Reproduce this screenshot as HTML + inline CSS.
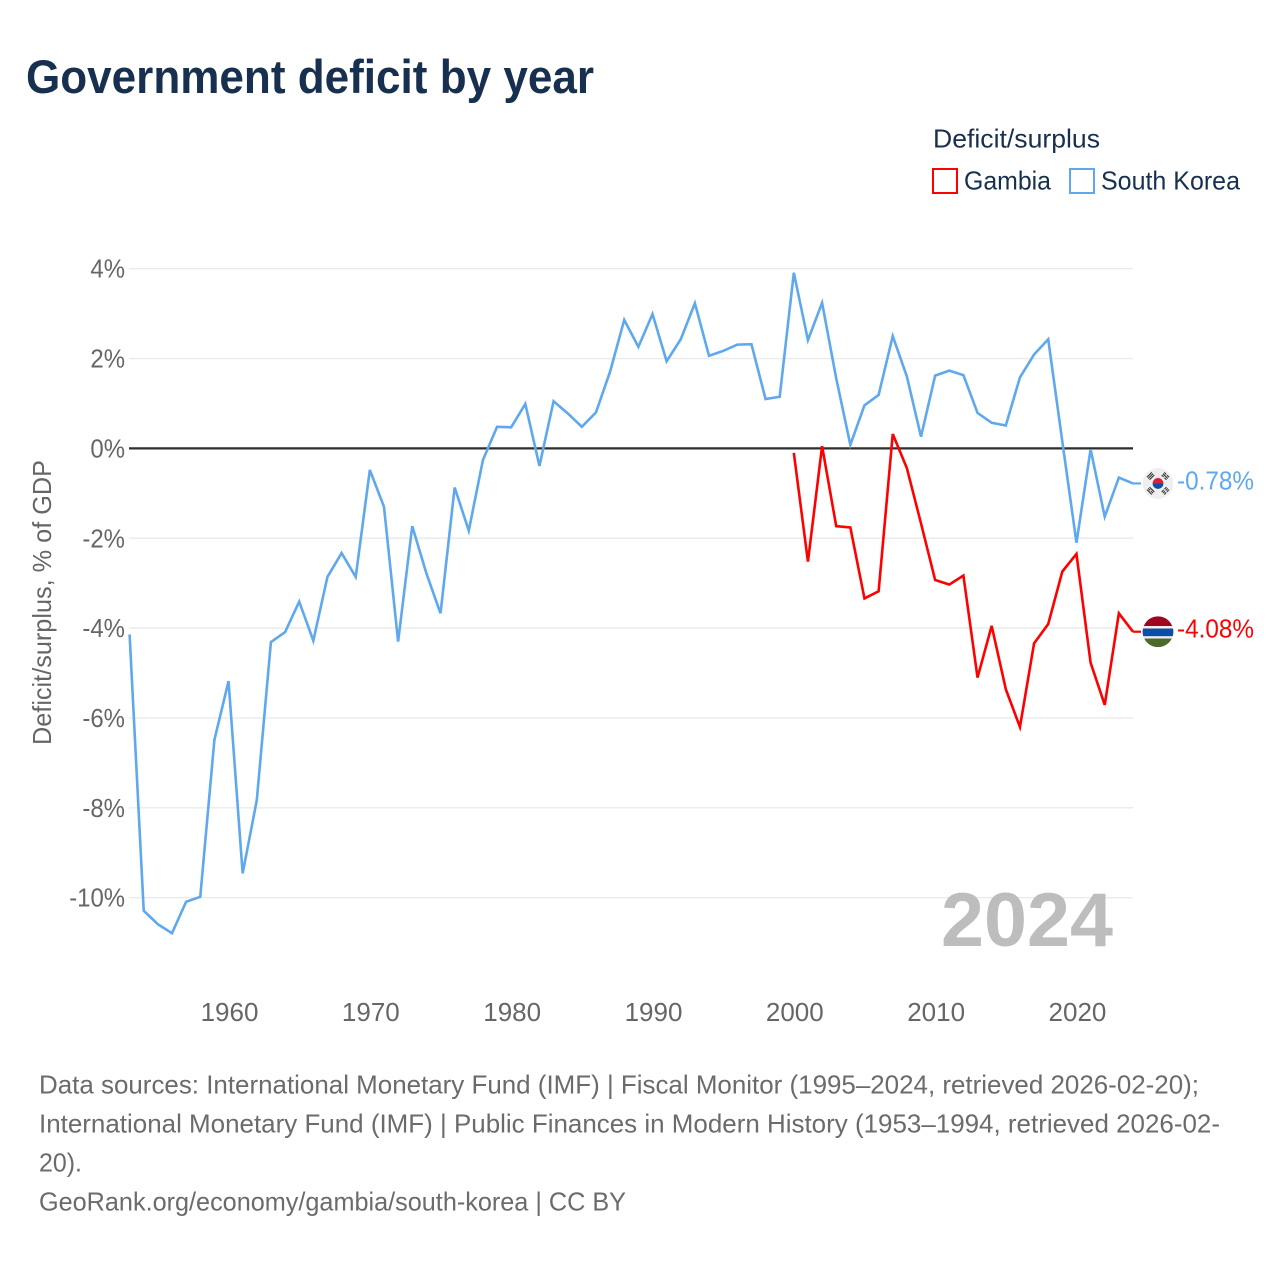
<!DOCTYPE html>
<html lang="en">
<head>
<meta charset="utf-8">
<title>Government deficit by year</title>
<style>
  html, body { margin: 0; padding: 0; background: #fff; }
  svg { display: block; font-family: "Liberation Sans", sans-serif; }
</style>
</head>
<body>
<svg id="chart" xmlns="http://www.w3.org/2000/svg" width="1280" height="1280" viewBox="0 0 1280 1280">
  <defs>
    <clipPath id="flag-clip"><circle cx="0" cy="0" r="15.4"></circle></clipPath>
  </defs>
  <rect x="0" y="0" width="1280" height="1280" fill="#ffffff"></rect>

  <text x="26" y="93" font-size="47" font-weight="700" fill="#18304f" textLength="568" lengthAdjust="spacingAndGlyphs">Government deficit by year</text>

  <text x="933" y="147.5" font-size="26" fill="#18304f" textLength="167" lengthAdjust="spacingAndGlyphs">Deficit/surplus</text>
  <rect x="933" y="169" width="24" height="24" fill="#ffffff" stroke="#ff0000" stroke-width="2"></rect>
  <text x="964" y="189.5" font-size="26" fill="#18304f" textLength="87" lengthAdjust="spacingAndGlyphs">Gambia</text>
  <rect x="1070" y="169" width="24" height="24" fill="#ffffff" stroke="#5ea8ee" stroke-width="2"></rect>
  <text x="1101" y="189.5" font-size="26" fill="#18304f" textLength="139" lengthAdjust="spacingAndGlyphs">South Korea</text>

  <g id="grid"></g>
  <g id="y-ticks"></g>
  <g id="x-ticks"></g>

  <text transform="translate(51 745) rotate(-90)" x="0" y="0" font-size="26" fill="#666666" textLength="285" lengthAdjust="spacingAndGlyphs">Deficit/surplus, % of GDP</text>

  <text x="941" y="946" font-size="76" font-weight="700" fill="#bdbdbd" textLength="172" lengthAdjust="spacingAndGlyphs">2024</text>

  <g id="series"></g>

  <g id="flag-south-korea">
    <g clip-path="url(#flag-clip)">
      <rect x="-16" y="-16" width="32" height="32" fill="#efefef"></rect>
      <path d="M-5.4 0A5.4 5.4 0 0 1 5.4 0Z" fill="#d8203a"></path>
      <path d="M-5.4 0A5.4 5.4 0 0 0 5.4 0Z" fill="#0a4ea8"></path>
      <g fill="none" stroke="#333333" stroke-width="1.1">
        <g transform="rotate(-45)"><path d="M-3.4 -12.2H3.4M-3.4 -10.4H3.4M-3.4 -8.6H3.4"></path></g>
        <g transform="rotate(45)"><path d="M-3.4 -12.2H-0.5M0.5 -12.2H3.4M-3.4 -10.4H3.4M-3.4 -8.6H-0.5M0.5 -8.6H3.4"></path></g>
        <g transform="rotate(-135)"><path d="M-3.4 -12.2H3.4M-3.4 -10.4H-0.5M0.5 -10.4H3.4M-3.4 -8.6H3.4"></path></g>
        <g transform="rotate(135)"><path d="M-3.4 -12.2H-0.5M0.5 -12.2H3.4M-3.4 -10.4H-0.5M0.5 -10.4H3.4M-3.4 -8.6H-0.5M0.5 -8.6H3.4"></path></g>
      </g>
    </g>
  </g>
  <g id="flag-gambia">
    <g clip-path="url(#flag-clip)">
      <rect x="-16" y="-16" width="32" height="10.4" fill="#a0051f"></rect>
      <rect x="-16" y="-5.6" width="32" height="2.4" fill="#efefef"></rect>
      <rect x="-16" y="-3.2" width="32" height="7.8" fill="#0c4ea6"></rect>
      <rect x="-16" y="4.6" width="32" height="2.2" fill="#efefef"></rect>
      <rect x="-16" y="6.8" width="32" height="10" fill="#4c6a2a"></rect>
    </g>
  </g>

  <g font-size="26" fill="#6b6b6b">
    <text x="39" y="1093.5" textLength="1160" lengthAdjust="spacingAndGlyphs">Data sources: International Monetary Fund (IMF) | Fiscal Monitor (1995–2024, retrieved 2026-02-20);</text>
    <text x="39" y="1132.5" textLength="1181" lengthAdjust="spacingAndGlyphs">International Monetary Fund (IMF) | Public Finances in Modern History (1953–1994, retrieved 2026-02-</text>
    <text x="39" y="1171.5" textLength="43" lengthAdjust="spacingAndGlyphs">20).</text>
    <text x="39" y="1210.5" textLength="587" lengthAdjust="spacingAndGlyphs">GeoRank.org/economy/gambia/south-korea | CC BY</text>
  </g>
</svg>

<script>
const koreaYears = [1953,1954,1955,1956,1957,1958,1959,1960,1961,1962,1963,1964,1965,1966,1967,1968,1969,1970,1971,1972,1973,1974,1975,1976,1977,1978,1979,1980,1981,1982,1983,1984,1985,1986,1987,1988,1989,1990,1991,1992,1993,1994,1995,1996,1997,1998,1999,2000,2001,2002,2003,2004,2005,2006,2007,2008,2009,2010,2011,2012,2013,2014,2015,2016,2017,2018,2019,2020,2021,2022,2023,2024];
const koreaValues = [-4.14,-10.29,-10.59,-10.79,-10.09,-9.98,-6.49,-5.18,-9.46,-7.83,-4.31,-4.09,-3.41,-4.28,-2.86,-2.33,-2.86,-0.48,-1.30,-4.30,-1.73,-2.78,-3.67,-0.87,-1.83,-0.26,0.48,0.47,0.99,-0.39,1.05,0.78,0.48,0.80,1.71,2.86,2.26,2.99,1.94,2.43,3.23,2.06,2.17,2.31,2.32,1.10,1.15,3.91,2.41,3.24,1.56,0.08,0.96,1.19,2.50,1.60,0.26,1.62,1.73,1.63,0.79,0.57,0.51,1.58,2.09,2.43,0.15,-2.10,-0.02,-1.52,-0.65,-0.78];
const gambiaYears = [2000,2001,2002,2003,2004,2005,2006,2007,2008,2009,2010,2011,2012,2013,2014,2015,2016,2017,2018,2019,2020,2021,2022,2023,2024];
const gambiaValues = [-0.10,-2.52,0.05,-1.73,-1.76,-3.34,-3.18,0.32,-0.44,-1.67,-2.93,-3.03,-2.83,-5.10,-3.95,-5.36,-6.20,-4.34,-3.91,-2.74,-2.35,-4.77,-5.71,-3.67,-4.08];
const yTickValues = [4,2,0,-2,-4,-6,-8,-10];
const xTickValues = [1960,1970,1980,1990,2000,2010,2020];

const SVG_NS = 'http://www.w3.org/2000/svg';
function xScale(year) { return 129.6 + (year - 1953) * (1133 - 129.6) / 71; }
function yScale(value) { return 448.4 - value * 44.93; }
function make(tag, attrs, parent, text) {
  const el = document.createElementNS(SVG_NS, tag);
  for (const key in attrs) el.setAttribute(key, attrs[key]);
  if (text !== undefined) el.textContent = text;
  parent.appendChild(el);
  return el;
}
function linePath(years, values) {
  return years.map(function (yr, i) {
    return (i ? 'L' : 'M') + xScale(yr).toFixed(2) + ' ' + yScale(values[i]).toFixed(2);
  }).join('');
}

const gridGroup = document.getElementById('grid');
const yTickGroup = document.getElementById('y-ticks');
const xTickGroup = document.getElementById('x-ticks');
const seriesGroup = document.getElementById('series');
const root = document.getElementById('chart');

yTickValues.forEach(function (v) {
  if (v !== 0) {
    const line = make('line', { x1: 129, x2: 1133, y1: yScale(v), y2: yScale(v), stroke: '#ebebeb', 'stroke-width': 1.4 }, gridGroup);
    
    
  }
  const label = make('text', { x: 125, y: yScale(v) + 9, 'text-anchor': 'end', 'font-size': 26, fill: '#666666' }, yTickGroup, v + '%');
  label.setAttribute('textLength', (label.getComputedTextLength() * 0.92).toFixed(1));
  label.setAttribute('lengthAdjust', 'spacingAndGlyphs');
  
  
});

xTickValues.forEach(function (yr) {
  const label = make('text', { x: xScale(yr) + 1, y: 1021, 'text-anchor': 'middle', 'font-size': 26, fill: '#666666' }, xTickGroup, String(yr));
  
  
});

const koreaLine = make('path', { d: linePath(koreaYears, koreaValues), fill: 'none', stroke: '#5ea8ee', 'stroke-width': 2.6, 'stroke-linejoin': 'miter' }, seriesGroup);



const gambiaLine = make('path', { d: linePath(gambiaYears, gambiaValues), fill: 'none', stroke: '#ff0000', 'stroke-width': 2.6, 'stroke-linejoin': 'miter' }, seriesGroup);



const zeroLine = make('line', { x1: 129, x2: 1133, y1: yScale(0), y2: yScale(0), stroke: '#2e2e2e', 'stroke-width': 2.2 }, seriesGroup);


seriesGroup.insertBefore(zeroLine, koreaLine);

const koreaLast = koreaValues[koreaValues.length - 1];
const gambiaLast = gambiaValues[gambiaValues.length - 1];

const koreaStub = make('line', { x1: 1133, x2: 1141, y1: yScale(koreaLast), y2: yScale(koreaLast), stroke: '#5ea8ee', 'stroke-width': 2.2 }, seriesGroup);



const gambiaStub = make('line', { x1: 1133, x2: 1141, y1: yScale(gambiaLast), y2: yScale(gambiaLast), stroke: '#ff0000', 'stroke-width': 2.2 }, seriesGroup);



document.getElementById('flag-south-korea').setAttribute('transform', 'translate(1158 ' + yScale(koreaLast) + ')');
document.getElementById('flag-gambia').setAttribute('transform', 'translate(1158 ' + yScale(gambiaLast) + ')');

const koreaValueLabel = make('text', { x: 1177, y: yScale(koreaLast) + 6, 'font-size': 26, fill: '#5ea8ee', textLength: 77, lengthAdjust: 'spacingAndGlyphs' }, root, koreaLast.toFixed(2) + '%');



const gambiaValueLabel = make('text', { x: 1177, y: yScale(gambiaLast) + 6, 'font-size': 26, fill: '#ff0000', textLength: 77, lengthAdjust: 'spacingAndGlyphs' }, root, gambiaLast.toFixed(2) + '%');


</script>
</body>
</html>
